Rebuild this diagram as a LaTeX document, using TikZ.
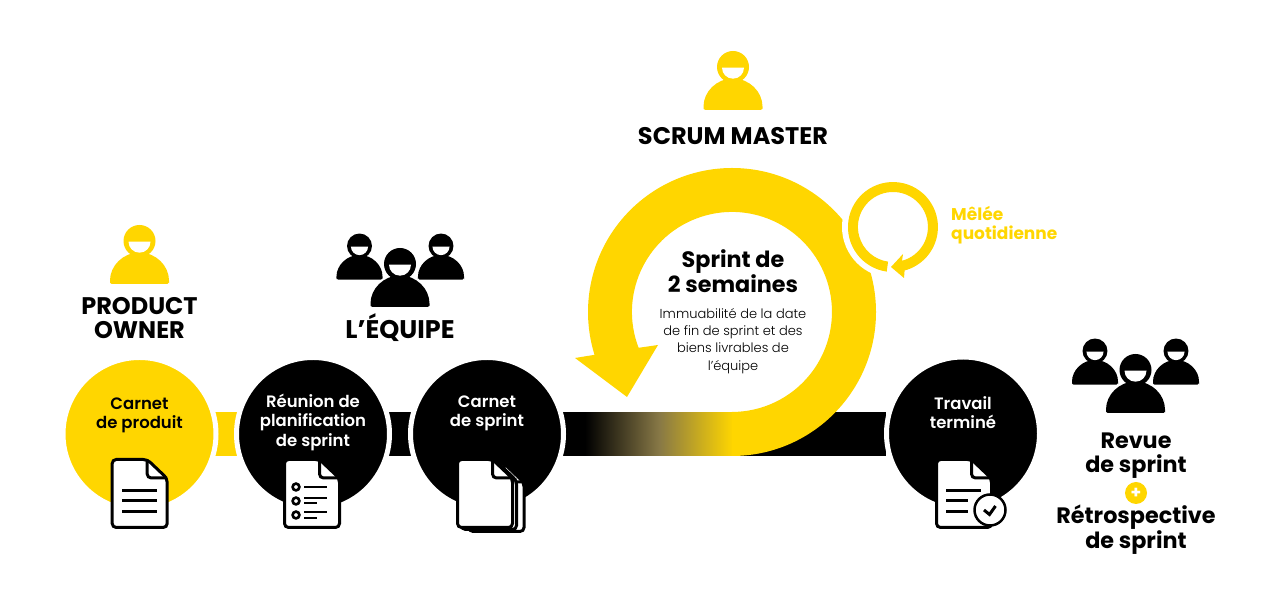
\documentclass[tikz,border=0pt]{standalone}
\usepackage{fontspec}
\setmainfont{Poppins}
\newfontfamily\demigras{Poppins SemiBold}
\newfontfamily\leger{Poppins Light}
\usetikzlibrary{calc}
\definecolor{jaune}{RGB}{255,214,0}
\definecolor{olive}{RGB}{135,120,70}
\tikzset{
	rond/.style={circle, draw=white, line width=5pt, minimum size=153pt, inner sep=0pt},
	titre/.style={font=\bfseries\fontsize{24}{24}\selectfont, align=center, text=black},
	soustitre/.style={font=\bfseries\fontsize{22.3}{23.5}\selectfont, align=center, text=black},
	dansrond/.style={font=\demigras\fontsize{16.5}{19.5}\selectfont, align=center},
	trait/.style={line width=3pt, line cap=butt},
}
% silhouette
\newcommand{\personne}[4]{
	\begin{scope}[shift={(#1,#2)}, scale=#3]
		\path[draw=white, line width=3pt] (0,0) circle (16);
		\path[draw=white, line width=3pt] (-29.5,-43) -- (-29.5,-41) arc[start angle=180, end angle=0, radius=29.5] -- (29.5,-43) -- cycle;
		\fill[#4] (0,0) circle (16);
		\fill[#4, rounded corners=1.5pt] (-29.5,-43) -- (-29.5,-41) arc[start angle=180, end angle=0, radius=29.5] -- (29.5,-43) -- cycle;
		\fill[white] (-11,-0.7) arc[start angle=180, end angle=360, radius=11] -- cycle;
	\end{scope}
}
% feuille
\newcommand{\feuille}[2]{
	\begin{scope}[shift={(#1,#2)}]
		\filldraw[fill=white, draw=black, line width=3pt, rounded corners=4pt] (0,0) -- (35,0) -- (55,-19) -- (55,-68) -- (0,-68) -- cycle;
		\draw[black, line width=3pt, rounded corners=4pt] (35,0) -- (35,-18.5) -- (55,-18.5);
	\end{scope}
}
\begin{document}
\begin{tikzpicture}[x=1pt, y=1pt]
	\useasboundingbox (0,0) rectangle (1280,604);
	% bande
	\fill[jaune] (210,148) rectangle (245,192);
	\fill[black] (385,148) rectangle (420,192);
	\fill[black] (550,148) rectangle (590,192);
	\shade[left color=black, right color=jaune, middle color=olive] (585,148.4) rectangle (733,191.6);
	\fill[black] (732,148) rectangle (886,192);
	% grande boucle
	\fill[jaune] (732,148) arc[start angle=-90, end angle=197.3, radius=144] -- (575,246) -- (627,207) -- (658,259) -- (638.6,256.2) arc[start angle=201, end angle=-90, radius=100] -- cycle;
	\fill[white] (893,377) circle (51);
	% petite boucle
	\fill[jaune] (886.7,332.4) arc[start angle=262, end angle=-75, radius=45] -- (904,326) -- (891,337) -- (903,350) -- (902,343.2) arc[start angle=-75, end angle=262, radius=35] -- cycle;
	% ronds
	\node[rond, fill=jaune] (produit) at (139.5,170) {};
	\node[rond, fill=black] (reunion) at (313,170) {};
	\node[rond, fill=black] (carnet) at (487,170) {};
	\node[rond, fill=black] (travail) at (963,170.5) {};
	\node[dansrond, text=black] (tproduit) at ($(produit)+(0,18.5)$) {Carnet\\de produit};
	\node[dansrond, text=white] (treunion) at ($(reunion)+(0,12)$) {Réunion de\\planification\\de sprint};
	\node[dansrond, text=white] (tcarnet) at ($(carnet)+(0,20.5)$) {Carnet\\de sprint};
	\node[dansrond, text=white] (ttravail) at ($(travail)+(0,21)$) {Travail\\terminé};
	% feuilles
	\feuille{112.2}{144.5}
	\draw[trait] (122,113) -- (157,113) (122,103) -- (157,103) (122,92) -- (157,92);
	\feuille{284.5}{144.5}
	\foreach \y in {117,103,89}
		\draw[black, line width=2.6pt, fill=white] (296,\y) circle (3.4);
	\draw[black, line width=2.6pt] (304,117) -- (327,117) (304,106) -- (327,106) (304,101) -- (317,101) (304,92) -- (327,92) (304,86) -- (317,86);
	\feuille{469}{140.5}
	\feuille{461.5}{142.5}
	\feuille{457.5}{144.5}
	\feuille{936.5}{144.5}
	\draw[trait] (946,113.3) -- (981,113.3) (946,103) -- (968,103) (946,92) -- (968,92);
	\filldraw[fill=white, draw=black, line width=2.5pt] (990,94) circle (15.5);
	\draw[black, line width=3pt] (984,94) -- (989.5,89.5) -- (995.5,98);
	% personnes
	\personne{139.5}{363}{1}{jaune}
	\personne{733}{537}{1}{jaune}
	\personne{359.5}{358}{0.78}{black}
	\personne{441}{358}{0.78}{black}
	\personne{400}{340}{1}{black}
	\personne{1095}{253}{0.78}{black}
	\personne{1176}{253}{0.78}{black}
	\personne{1135.5}{234}{1}{black}
	% textes
	\node[titre] (po) at (139.5,286) {PRODUCT\\OWNER};
	\node[titre, font=\bfseries\fontsize{25.5}{24}\selectfont] (equipe) at (400,276) {L’ÉQUIPE};
	\node[titre] (sm) at (733,468) {SCRUM MASTER};
	\node[font=\bfseries\fontsize{17}{19}\selectfont, text=jaune, align=left, anchor=west, inner sep=0pt] (melee) at (951,379) {Mêlée\\quotidienne};
	\node[soustitre] (sprint) at (733,332.5) {Sprint de\\2 semaines};
	\node[font=\leger\fontsize{13}{17.3}\selectfont, align=center] (immu) at (733,263) {Immuabilité de la date\\de fin de sprint et des\\biens livrables de\\l’équipe};
	\node[soustitre] (revue) at (1136,148.5) {Revue\\de sprint};
	\node[circle, fill=jaune, minimum size=22pt, inner sep=0pt, text=white, font=\bfseries\fontsize{17}{17}\selectfont] (plus) at (1136,111) {+};
	\node[soustitre] (retro) at (1136,74) {Rétrospective\\de sprint};
\end{tikzpicture}
\end{document}
